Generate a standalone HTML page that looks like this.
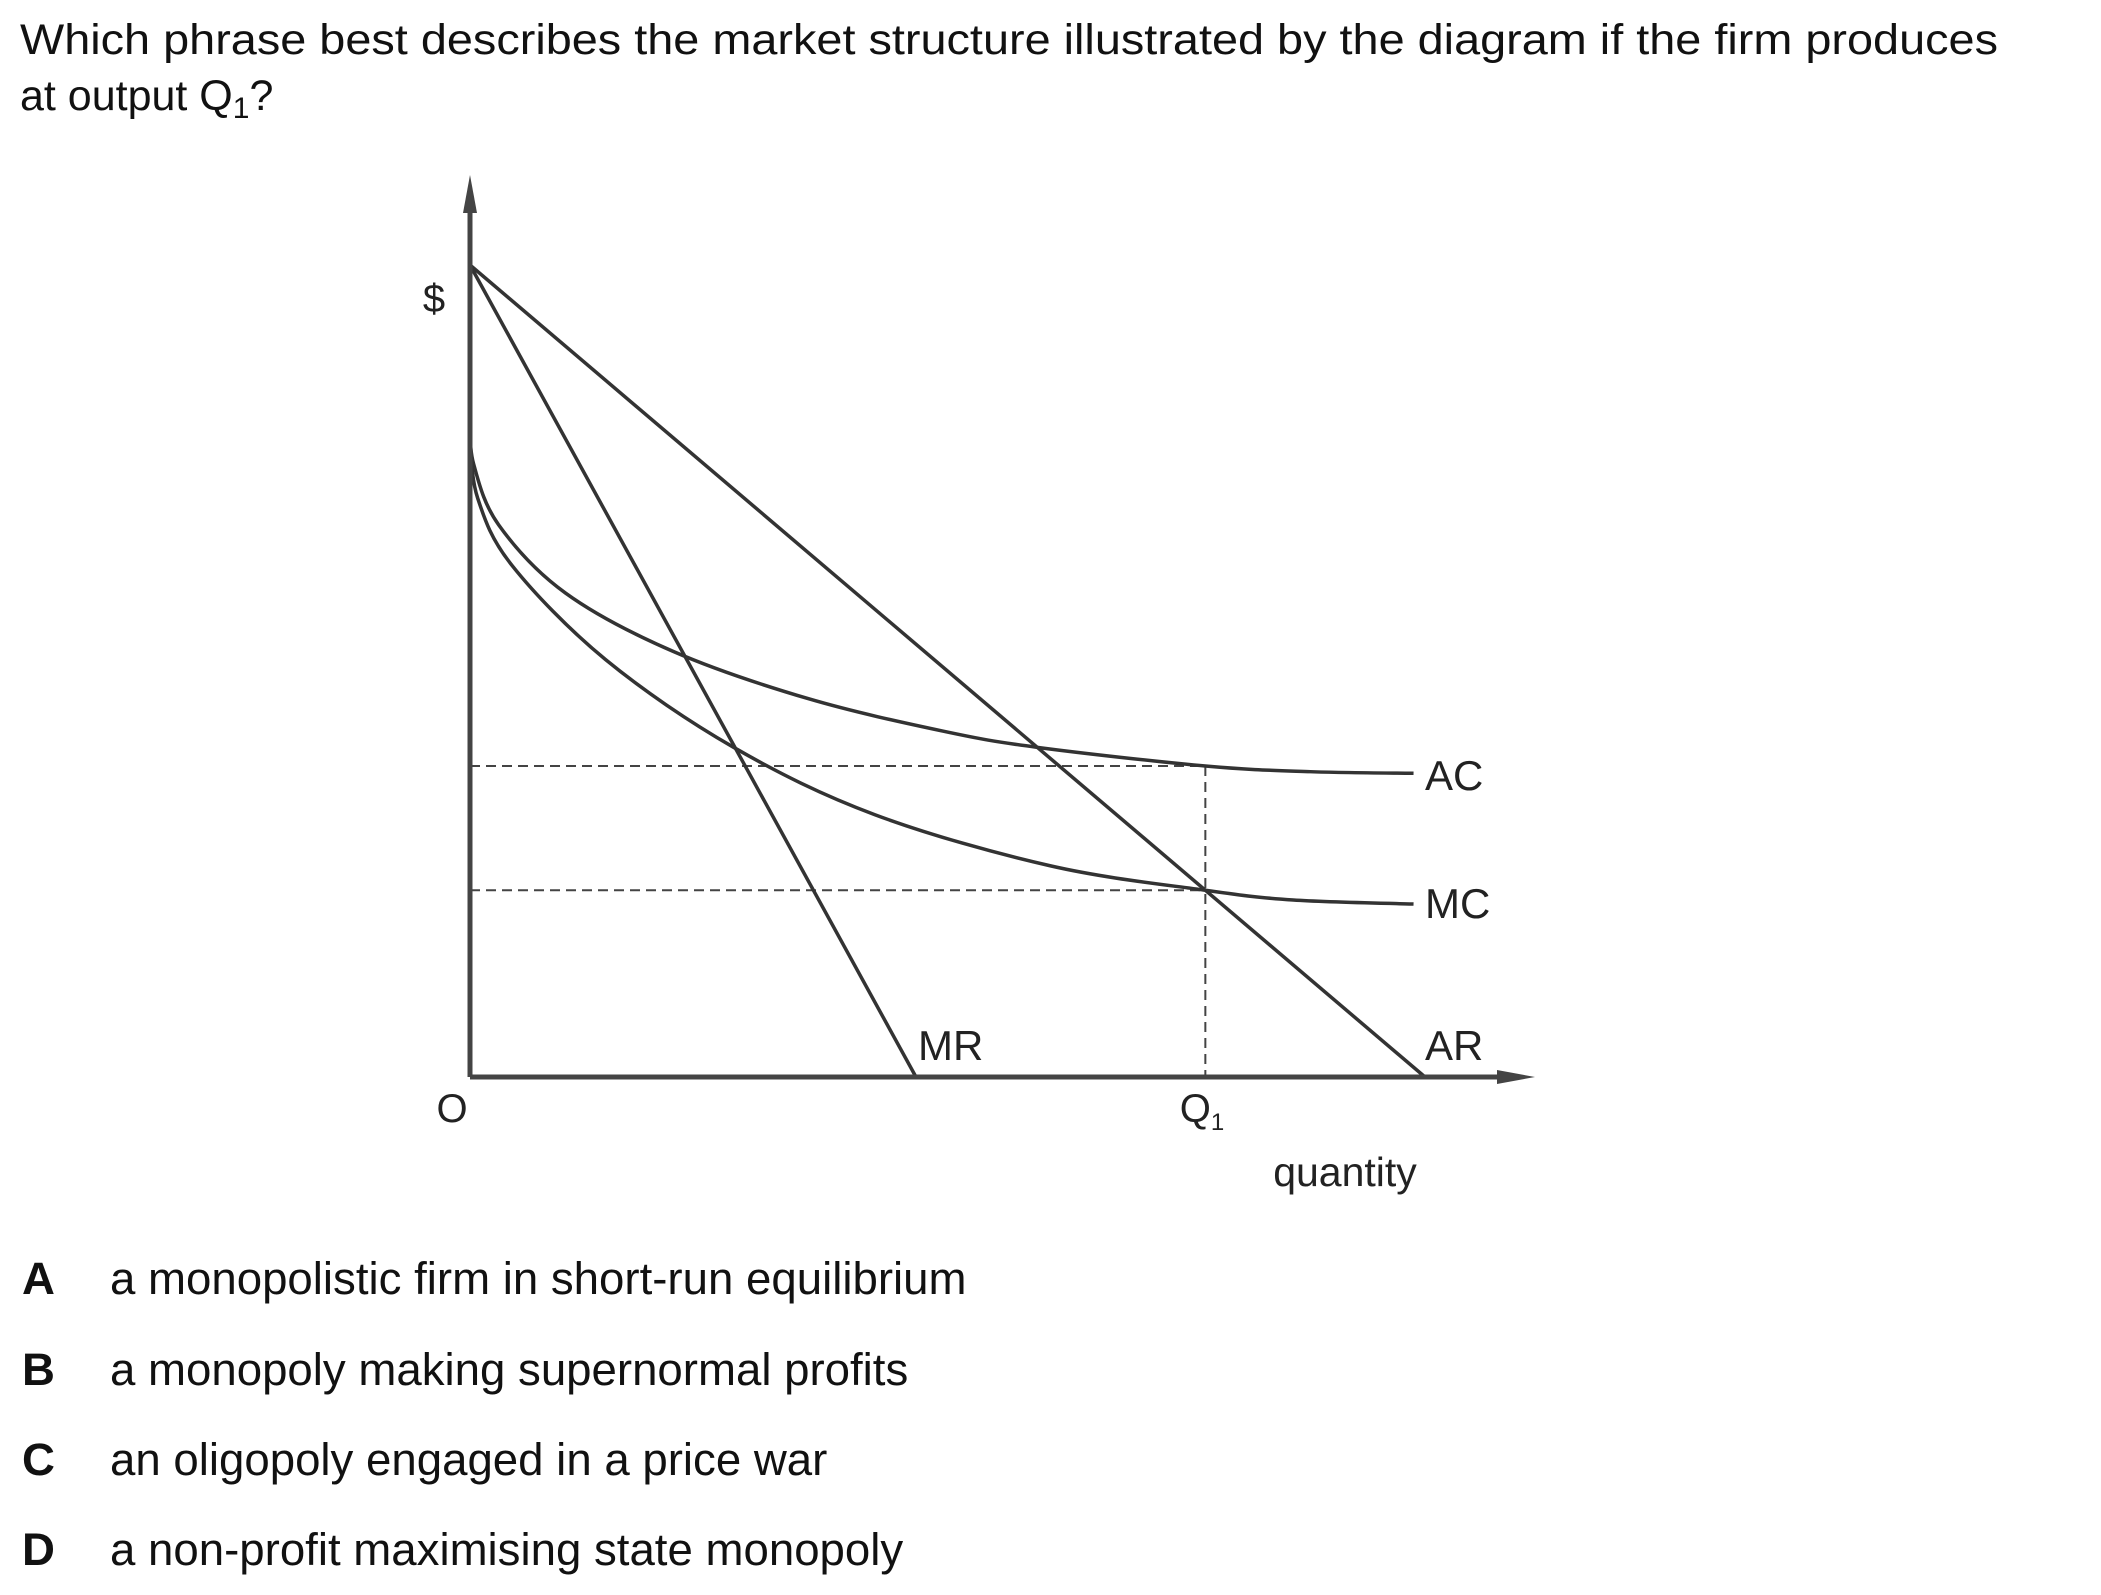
<!DOCTYPE html>
<html><head><meta charset="utf-8"><style>
html,body{margin:0;padding:0;background:#fff;}
svg{display:block;font-family:"Liberation Sans",Arial,sans-serif;}
</style></head><body>
<svg id="chart" width="2101" height="1595" viewBox="0 0 2101 1595">
<text x="20" y="54" font-size="43" textLength="1978" lengthAdjust="spacingAndGlyphs" fill="#111">Which phrase best describes the market structure illustrated by the diagram if the firm produces</text>
<text x="20" y="110" font-size="43" fill="#111">at output Q<tspan font-size="30" dy="8">1</tspan><tspan dy="-8">?</tspan></text>
<g id="plot"></g>
<text x="434" y="312" font-size="40" text-anchor="middle" fill="#222">$</text>
<text x="452" y="1122" font-size="40" text-anchor="middle" fill="#222">O</text>
<text x="1202" y="1122" font-size="40" text-anchor="middle" fill="#222">Q<tspan font-size="24" dy="8">1</tspan></text>
<text x="1345" y="1186" font-size="41" text-anchor="middle" fill="#222">quantity</text>
<text x="1425" y="790" font-size="42" fill="#222">AC</text>
<text x="1425" y="918" font-size="42" fill="#222">MC</text>
<text x="1425" y="1060" font-size="42" fill="#222">AR</text>
<text x="918" y="1060" font-size="42" fill="#222">MR</text>
<g font-size="45.6" fill="#111">
<text x="22" y="1294" font-weight="bold">A</text>
<text x="110" y="1294">a monopolistic firm in short-run equilibrium</text>
<text x="22" y="1385" font-weight="bold">B</text>
<text x="110" y="1385">a monopoly making supernormal profits</text>
<text x="22" y="1475" font-weight="bold">C</text>
<text x="110" y="1475">an oligopoly engaged in a price war</text>
<text x="22" y="1565" font-weight="bold">D</text>
<text x="110" y="1565">a non-profit maximising state monopoly</text>
</g>
</svg>
<script>
const arLine = [[0,100],[100,0]];
const mrLine = [[0,100],[46.7,0]];
const acQ = [0,0.4,3,10,21.3,35.4,49.5,59.4,77,88,98.8];
const acP = [80.4,75.4,68,59.6,52.4,46.6,42.6,40.6,38.3,37.6,37.4];
const mcQ = [0,0.8,4.4,14.2,27.6,42.4,60.8,77,86.2,98.8];
const mcP = [78.7,71.3,63,51.4,40.6,32.3,26,23,21.8,21.3];
const q1 = 77;
const acAtQ1 = 38.3;
const mcAtQ1 = 23;

const X = q => 470 + q * 9.55;
const Y = p => 1077 - p * 8.12;
const NS = "http://www.w3.org/2000/svg";
const g = document.getElementById('plot');
function mk(tag, attrs, name){
  const e = document.createElementNS(NS, tag);
  for (const k in attrs) e.setAttribute(k, attrs[k]);
  
  
  g.appendChild(e); return e;
}
function smooth(qs, ps){
  const pts = qs.map((q,i)=>[X(q),Y(ps[i])]);
  let d = 'M'+pts[0][0]+','+pts[0][1];
  for (let i=0;i<pts.length-1;i++){
    const p0=pts[Math.max(0,i-1)], p1=pts[i], p2=pts[i+1], p3=pts[Math.min(pts.length-1,i+2)];
    const c1=[p1[0]+(p2[0]-p0[0])/6, p1[1]+(p2[1]-p0[1])/6];
    const c2=[p2[0]-(p3[0]-p1[0])/6, p2[1]-(p3[1]-p1[1])/6];
    d += ' C'+c1[0]+','+c1[1]+' '+c2[0]+','+c2[1]+' '+p2[0]+','+p2[1];
  }
  return d;
}
mk('line',{x1:X(0),y1:Y(acAtQ1),x2:X(q1),y2:Y(acAtQ1),stroke:'#444','stroke-width':2,'stroke-dasharray':'10 6'},'ac-guide-line');
mk('line',{x1:X(0),y1:Y(mcAtQ1),x2:X(q1),y2:Y(mcAtQ1),stroke:'#444','stroke-width':2,'stroke-dasharray':'10 6'},'mc-guide-line');
mk('line',{x1:X(q1),y1:Y(acAtQ1),x2:X(q1),y2:Y(0),stroke:'#444','stroke-width':2,'stroke-dasharray':'10 6'},'q1-guide-line');
mk('line',{x1:X(arLine[0][0]),y1:Y(arLine[0][1]),x2:X(arLine[1][0]),y2:Y(arLine[1][1]),stroke:'#333','stroke-width':3.5},'ar-line');
mk('line',{x1:X(mrLine[0][0]),y1:Y(mrLine[0][1]),x2:X(mrLine[1][0]),y2:Y(mrLine[1][1]),stroke:'#333','stroke-width':3.5},'mr-line');
mk('path',{d:smooth(acQ,acP),fill:'none',stroke:'#333','stroke-width':3.5},'ac-curve');
mk('path',{d:smooth(mcQ,mcP),fill:'none',stroke:'#333','stroke-width':3.5},'mc-curve');
mk('line',{x1:470,y1:1077,x2:470,y2:195,stroke:'#444','stroke-width':5},'y-axis');
mk('polygon',{points:'470,175 463,213 477,213',fill:'#444'},'y-axis-arrow');
mk('line',{x1:470,y1:1077,x2:1510,y2:1077,stroke:'#444','stroke-width':5},'x-axis');
mk('polygon',{points:'1535,1077 1497,1070 1497,1084',fill:'#444'},'x-axis-arrow');
</script>
</body></html>
